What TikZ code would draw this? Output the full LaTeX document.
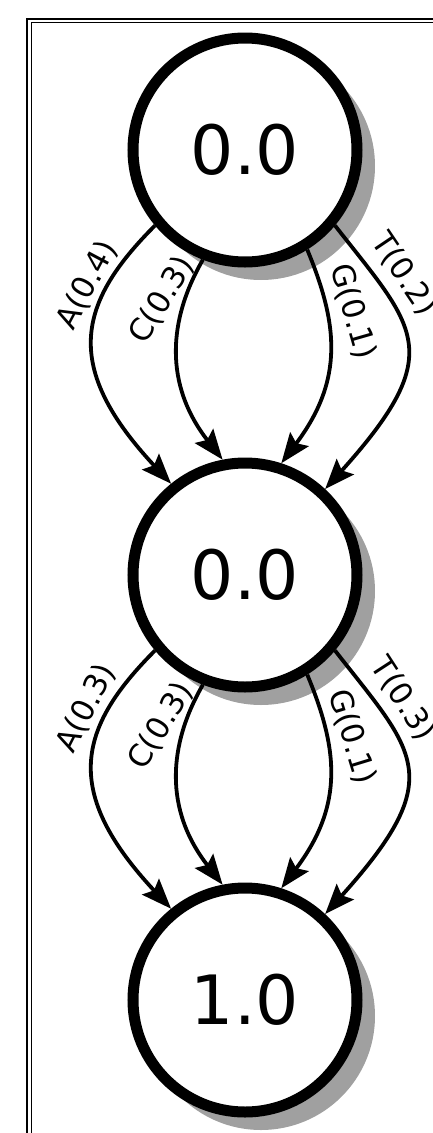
\documentclass[tikz,border=0pt]{standalone}
\usepackage{fontspec}
\setmainfont{DejaVu Sans}
\usetikzlibrary{arrows.meta}
\definecolor{shd}{RGB}{160,160,160}
\begin{document}
\begin{tikzpicture}[x=1pt,y=1pt,
  state/.style={circle, draw=black, line width=11pt, fill=white, minimum size=224pt, inner sep=0pt, font=\fontsize{68}{80}\selectfont},
  edge/.style={line width=3.8pt, -{Stealth[length=30pt,width=23pt,inset=5pt]}},
  lbl/.style={font=\fontsize{31}{37}\selectfont, inner sep=0pt},
  frameout/.style={line width=2pt},
  framein/.style={line width=1pt}]
\useasboundingbox (0,0) rectangle (433,-1133);
% frame
\draw[frameout] (27,-1133) -- (27,-19) -- (433,-19);
\draw[framein] (31.5,-1133) -- (31.5,-22) -- (433,-22);
% centres
\coordinate (p1) at (245,-150);
\coordinate (p2) at (245,-575);
\coordinate (p3) at (245,-1000);
% shadows
\foreach \p in {p1,p2,p3}
  \fill[shd] ([shift={(16pt,-16pt)}]\p) circle[radius=114pt];
% states
\node[state] (n1) at (p1) {0.0};
\node[state] (n2) at (p2) {0.0};
\node[state] (n3) at (p3) {1.0};
% edges level 1
\draw[edge] (n1.220.6) to[out=225,in=133,out distance=110pt,in distance=160pt] (n2.129.2);
\draw[edge] (n1.249) to[out=240,in=128,out distance=70pt,in distance=95pt] (n2.101.1);
\draw[edge] (n1.302.7) to[out=292.5,in=53,out distance=80pt,in distance=105pt] (n2.72.8);
\draw[edge] (n1.320.8) to[out=308,in=48,out distance=130pt,in distance=185pt] (n2.47);
% edges level 2
\draw[edge] (n2.220.6) to[out=225,in=133,out distance=110pt,in distance=160pt] (n3.129.2);
\draw[edge] (n2.249) to[out=240,in=128,out distance=70pt,in distance=95pt] (n3.101.1);
\draw[edge] (n2.302.7) to[out=292.5,in=53,out distance=80pt,in distance=105pt] (n3.72.8);
\draw[edge] (n2.320.8) to[out=308,in=48,out distance=130pt,in distance=185pt] (n3.47);
% labels
\node[lbl, rotate=62] (la1) at (87,-285) {A(0.4)};
\node[lbl, rotate=59] (lc1) at (162,-300) {C(0.3)};
\node[lbl, rotate=-74] (lg1) at (353,-312) {G(0.1)};
\node[lbl, rotate=-56] (lt1) at (404,-274) {T(0.2)};
\node[lbl, rotate=63] (la2) at (86,-708) {A(0.3)};
\node[lbl, rotate=59] (lc2) at (161,-726) {C(0.3)};
\node[lbl, rotate=-73] (lg2) at (352,-737) {G(0.1)};
\node[lbl, rotate=-57] (lt2) at (403,-699) {T(0.3)};
\end{tikzpicture}
\end{document}
